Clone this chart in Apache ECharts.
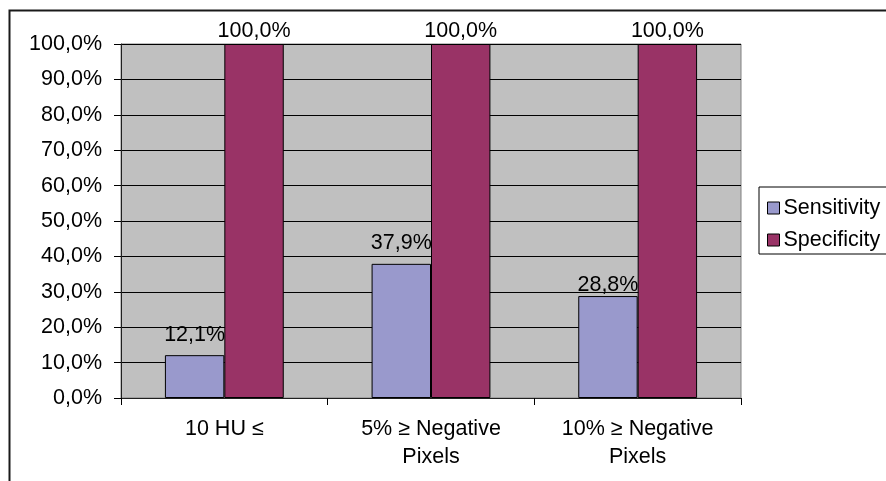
<!DOCTYPE html>
<html>
<head>
<meta charset="utf-8">
<script src="https://cdn.jsdelivr.net/npm/echarts@6/dist/echarts.min.js"></script>
<style>html,body{margin:0;padding:0;background:#fff;}#c{width:886px;height:481px;}</style>
</head>
<body>
<div id="c"></div>
<script>
var categories = ['10 HU ≤', '5% ≥ Negative\nPixels', '10% ≥ Negative\nPixels'];
var seriesNames = ['Sensitivity', 'Specificity'];
var sensitivity = [12.1, 37.9, 28.8];
var specificity = [100.0, 100.0, 100.0];
var yTicks = {min: 0, max: 100, interval: 10};

function fmt(v) { return v.toFixed(1).replace('.', ',') + '%'; }
var FONT = '"Liberation Sans", Arial, sans-serif';
var FS = 21.5;

// label gaps above bars, as placed in the original
var sensLabelGap = [9, 10, 0];
var specLabelGap = [2, 2, 2];

function items(values, gaps) {
  return values.map(function (v, i) { return {value: v, label: {distance: gaps[i]}}; });
}

var chart = echarts.init(document.getElementById('c'), null, {renderer: 'canvas'});
chart.setOption({
  animation: false,
  textStyle: {fontFamily: FONT},
  graphic: [{
    type: 'rect', z: 100, silent: true,
    shape: {x: 9.5, y: 10.5, width: 1000, height: 1000},
    style: {fill: 'none', stroke: '#1a1a1a', lineWidth: 2}
  }],
  grid: {left: 121, top: 44, right: 145, bottom: 83, show: true, backgroundColor: '#C0C0C0', borderColor: '#808080', borderWidth: 1},
  legend: {
    orient: 'vertical', left: 759, top: 187,
    data: seriesNames,
    icon: 'rect', itemWidth: 12, itemHeight: 12, itemGap: 10,
    padding: [10, 40, 3, 8],
    borderColor: '#000', borderWidth: 1, backgroundColor: '#fff',
    textStyle: {fontSize: FS, color: '#000', fontFamily: FONT, lineHeight: 20, padding: [0, 0, 0, -1]},
    itemStyle: {borderColor: '#000', borderWidth: 1}
  },
  xAxis: {
    type: 'category', data: categories,
    axisLine: {show: true, lineStyle: {color: '#202020', width: 1}},
    axisTick: {show: true, length: 7, lineStyle: {color: '#000'}},
    axisLabel: {fontSize: FS, color: '#000', lineHeight: 28, margin: 17, fontFamily: FONT, interval: 0},
    splitLine: {show: false}
  },
  yAxis: {
    type: 'value', min: yTicks.min, max: yTicks.max, interval: yTicks.interval,
    axisLine: {show: true, lineStyle: {color: '#202020', width: 1}},
    axisTick: {show: true, length: 7, lineStyle: {color: '#000'}},
    axisLabel: {fontSize: FS, color: '#000', margin: 19, fontFamily: FONT, formatter: fmt},
    splitLine: {show: true, lineStyle: {color: '#000', width: 1}}
  },
  series: [
    {
      name: seriesNames[0], type: 'bar', data: items(sensitivity, sensLabelGap),
      barGap: '0%', barCategoryGap: '42.5%',
      itemStyle: {color: '#9999CC', borderColor: '#000', borderWidth: 1},
      label: {show: true, position: 'top', fontSize: FS, color: '#000', fontFamily: FONT, formatter: function (p) { return fmt(p.value); }}
    },
    {
      name: seriesNames[1], type: 'bar', data: items(specificity, specLabelGap),
      barGap: '0%', barCategoryGap: '42.5%',
      itemStyle: {color: '#993366', borderColor: '#000', borderWidth: 1},
      label: {show: true, position: 'top', fontSize: FS, color: '#000', fontFamily: FONT, formatter: function (p) { return fmt(p.value); }}
    }
  ]
});
</script>
</body>
</html>
